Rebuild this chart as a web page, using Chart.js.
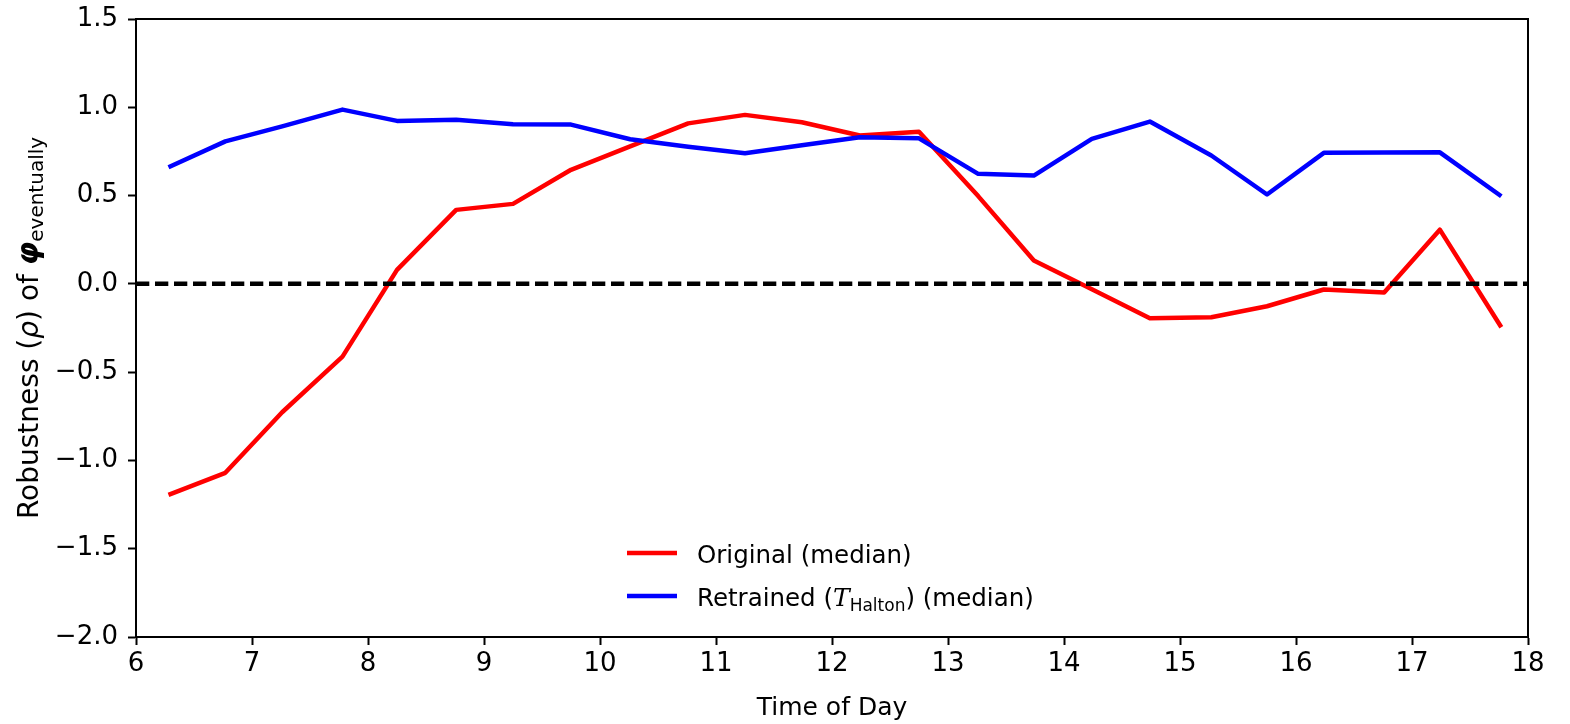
<!DOCTYPE html>
<html>
<head>
  <title>Robustness over the day</title>
  <script src="https://cdn.jsdelivr.net/npm/chart.js@4.4.1/dist/chart.umd.min.js"></script>
  <style>
    body {
      margin: 0;
      background: #fff;
    }
  </style>
</head>
<body>
  <canvas id="chart" width="1570" height="724"></canvas>
  <script>
    // values
    const hours = [6.28, 6.77, 7.26, 7.78, 8.25, 8.76, 9.25, 9.75, 10.26, 10.76, 11.25, 11.74,
      12.24, 12.75, 13.26, 13.74, 14.24, 14.74, 15.27, 15.75, 16.24, 16.76, 17.24, 17.77];
    const original = [-1.195, -1.07, -0.727, -0.412, 0.079, 0.419, 0.453, 0.646, 0.779, 0.909, 0.957, 0.915,
      0.84, 0.862, 0.497, 0.132, -0.03, -0.195, -0.189, -0.127, -0.032, -0.049, 0.307, -0.246];
    const retrained = [0.66, 0.807, 0.892, 0.987, 0.923, 0.929, 0.904, 0.902, 0.819, 0.777, 0.74, 0.785,
      0.83, 0.824, 0.623, 0.613, 0.821, 0.919, 0.727, 0.506, 0.742, 0.744, 0.745, 0.496];
    const xRange = [6, 18];
    const yRange = [-2.0, 1.5];
    const baseline = 0;

    const FONT = 'DejaVu Sans';
    const toPoints = (ys) => hours.map((h, i) => ({ x: h, y: ys[i] }));

    // spines on top/right, y-axis label with math bits, and the legend
    const decor = {
      id: 'decor',
      afterDraw(chart) {
        const c = chart.ctx;
        const a = chart.chartArea;
        c.save();
        c.strokeStyle = '#000';
        c.lineWidth = 2;
        c.strokeRect(a.left, a.top, a.right - a.left, a.bottom - a.top);

        // y label: Robustness (ρ) of φ_eventually
        const parts = [
          { t: 'Robustness (', f: '28px "' + FONT + '"', dy: 0 },
          { t: 'ρ', f: 'italic 28px "' + FONT + '"', dy: 0 },
          { t: ') of ', f: '28px "' + FONT + '"', dy: 0 },
          { t: 'φ', f: 'italic bold 30px "' + FONT + '"', dy: 0 },
          { t: 'eventually', f: '20px "' + FONT + '"', dy: 5 }
        ];
        let total = 0;
        parts.forEach(p => { c.font = p.f; p.w = c.measureText(p.t).width; total += p.w; });
        c.translate(38, (a.top + a.bottom) / 2);
        c.rotate(-Math.PI / 2);
        c.fillStyle = '#000';
        c.textBaseline = 'alphabetic';
        let x = -total / 2;
        parts.forEach(p => { c.font = p.f; c.fillText(p.t, x, p.dy); x += p.w; });
        c.setTransform(1, 0, 0, 1, 0, 0);

        // legend
        const rows = [
          { color: '#ff0000', y: 553, parts: [{ t: 'Original (median)', f: '24.5px "' + FONT + '"', dy: 0 }] },
          { color: '#0000ff', y: 596, parts: [
            { t: 'Retrained (', f: '24.5px "' + FONT + '"', dy: 0 },
            { t: 'T', f: 'italic 25px "DejaVu Serif"', dy: 0 },
            { t: 'Halton', f: '17px "' + FONT + '"', dy: 5 },
            { t: ') (median)', f: '24.5px "' + FONT + '"', dy: 0 }
          ] }
        ];
        rows.forEach(r => {
          c.strokeStyle = r.color;
          c.lineWidth = 4.3;
          c.beginPath();
          c.moveTo(627, r.y);
          c.lineTo(677, r.y);
          c.stroke();
          let tx = 697;
          r.parts.forEach(p => {
            c.font = p.f;
            c.fillText(p.t, tx, r.y + 10 + p.dy);
            tx += c.measureText(p.t).width;
          });
        });
        c.restore();
      }
    };

    const tickFmt = v => v.toFixed(1).replace('-', '\u2212');

    new Chart(document.getElementById('chart').getContext('2d'), {
      type: 'line',
      data: {
        datasets: [
          {
            label: 'zero',
            data: [{ x: xRange[0], y: baseline }, { x: xRange[1], y: baseline }],
            borderColor: '#000',
            borderWidth: 4.5,
            borderDash: [13.3, 5.7],
            pointRadius: 0,
            order: 0
          },
          {
            label: 'Retrained (median)',
            data: toPoints(retrained),
            borderColor: '#0000ff',
            borderWidth: 4.5,
            borderJoinStyle: 'round',
            pointRadius: 0,
            order: 1
          },
          {
            label: 'Original (median)',
            data: toPoints(original),
            borderColor: '#ff0000',
            borderWidth: 4.5,
            borderJoinStyle: 'round',
            pointRadius: 0,
            order: 2
          }
        ]
      },
      options: {
        responsive: false,
        animation: false,
        layout: { padding: { left: 0, right: 42, top: 19, bottom: 0 } },
        plugins: { legend: { display: false }, tooltip: { enabled: false } },
        scales: {
          x: {
            type: 'linear',
            min: xRange[0],
            max: xRange[1],
            ticks: { stepSize: 1, color: '#000', font: { family: FONT, size: 26 }, padding: 4, maxRotation: 0 },
            grid: { drawOnChartArea: false, tickLength: 8, tickWidth: 2, tickColor: '#000' },
            border: { color: '#000', width: 2 },
            title: { display: true, text: 'Time of Day', color: '#000', font: { family: FONT, size: 25, lineHeight: 1.25 }, padding: 0 },
            afterFit(s) { s.height = 87; s.paddingLeft = 0; s.paddingRight = 0; }
          },
          y: {
            min: yRange[0],
            max: yRange[1],
            ticks: { stepSize: 0.5, color: '#000', font: { family: FONT, size: 26 }, padding: 10, callback: tickFmt },
            grid: { drawOnChartArea: false, tickLength: 8, tickWidth: 2, tickColor: '#000' },
            border: { color: '#000', width: 2 },
            afterFit(s) { s.width = 136; s.paddingTop = 0; s.paddingBottom = 0; }
          }
        }
      },
      plugins: [decor]
    });
  </script>
</body>
</html>
